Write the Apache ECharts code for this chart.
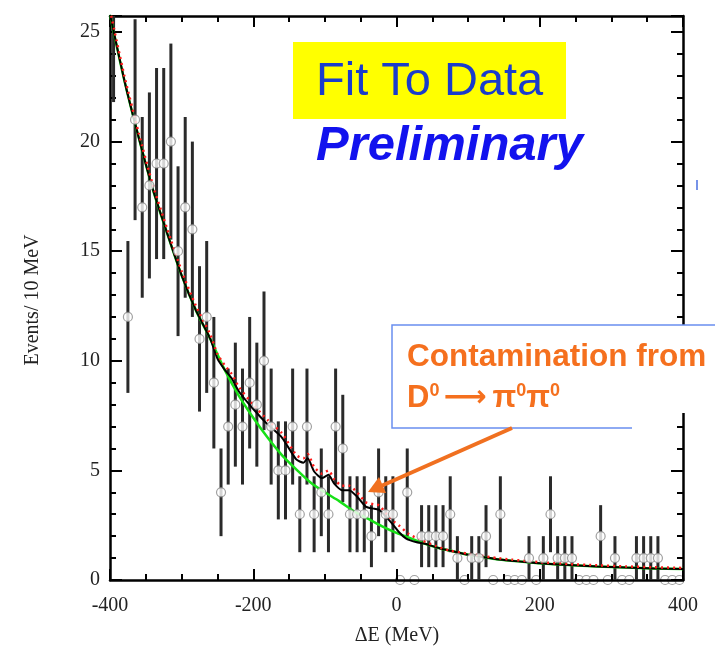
<!DOCTYPE html>
<html><head><meta charset="utf-8">
<script src="https://cdn.jsdelivr.net/npm/echarts@6/dist/echarts.min.js"></script>
<style>html,body{margin:0;padding:0;background:#fff}#c{width:715px;height:664px}</style>
</head><body><div id="c"></div>
<script>
// ---- data ----
const binCenters = [-395,-385,-375,-365,-355,-345,-335,-325,-315,-305,-295,-285,-275,-265,-255,-245,-235,-225,-215,-205,
  -195,-185,-175,-165,-155,-145,-135,-125,-115,-105,-95,-85,-75,-65,-55,-45,-35,-25,-15,-5,
  5,15,25,35,45,55,65,75,85,95,105,115,125,135,145,155,165,175,185,195,
  205,215,225,235,245,255,265,275,285,295,305,315,325,335,345,355,365,375,385,395];
const counts = [27,null,12,21,17,18,19,19,20,15,17,16,11,12,9,4,7,8,7,9,
  8,10,7,5,5,7,3,7,3,4,3,7,6,3,3,3,2,4,3,3,
  0,4,0,2,2,2,2,3,1,0,1,1,2,0,3,0,0,0,1,0,
  1,3,1,1,1,0,0,0,2,0,1,0,0,1,1,1,1,0,0,0];

const bkgX = [-400,-380,-360,-340,-320,-300,-280,-260,-240,-220,-200,-180,-160,-140,-120,-100,-80,-60,-40,-20,0,20,40,60,80,100,120,140,160,180,200,240,280,320,360,400];
const bkgY = [25.8,22.8,20.2,17.8,15.8,13.9,12.3,11.0,9.6,8.4,7.4,6.5,5.7,5.05,4.45,4.0,3.6,3.15,2.8,2.45,2.15,1.9,1.65,1.45,1.3,1.15,1.05,0.95,0.88,0.82,0.76,0.68,0.62,0.57,0.53,0.5];

const totX = [-400,-380,-360,-340,-320,-300,-280,-260,-250,-240,-230,-220,-200,-180,-160,-140,-130,-124,-115,-104,-95,-87,-76,-66,-55,-43,-31,-24,-15,-3,3,13,27,40,60,80,100,120,140,160,180,200,240,280,320,360,400];
const totY = [25.8,22.8,20.2,17.8,15.8,13.9,12.3,11.0,10.1,9.6,9.2,8.6,7.8,7.1,6.5,5.5,5.35,5.55,4.95,4.65,4.8,4.4,4.1,4.1,3.8,3.35,3.25,3.2,2.9,2.45,2.2,1.9,1.73,1.65,1.45,1.3,1.15,1.05,0.95,0.88,0.82,0.76,0.68,0.62,0.57,0.53,0.5];

const redX = [-400,-380,-360,-340,-320,-300,-280,-260,-250,-240,-230,-220,-200,-180,-160,-140,-130,-124,-115,-104,-95,-87,-76,-66,-55,-43,-31,-24,-15,-3,3,17,36,55,73,100,120,140,160,180,200,240,280,320,360,400];
const redY = [26.0,23.0,20.4,18.0,16.0,14.1,12.5,11.2,10.3,9.8,9.4,8.8,8.0,7.3,6.7,5.7,5.55,5.75,5.15,4.85,5.0,4.6,4.3,4.3,4.0,3.55,3.45,3.4,3.05,2.65,2.5,2.1,1.8,1.55,1.35,1.2,1.1,1.0,0.93,0.87,0.81,0.73,0.67,0.62,0.58,0.55];

const xTicks = [-400,-200,0,200,400];
const yTicks = [0,5,10,15,20,25];

// ---- build series data ----
const pts = [], zeros = [], bars = [];
binCenters.forEach((x,i)=>{
  const n = counts[i];
  if (n === null) return;
  if (n === 0) { zeros.push([x,0]); return; }
  pts.push([x,n]);
  const e = Math.sqrt(n);
  bars.push([x, n-e, n+e]);
});
const zip = (a,b)=>a.map((v,i)=>[v,b[i]]);

const chart = echarts.init(document.getElementById('c'), null, {renderer:'canvas'});
const serif = '"Liberation Serif","DejaVu Serif",serif';
const sans = '"Liberation Sans",Arial,sans-serif';
const axisCommon = {
  type:'value', min:-400, max:400, interval:200,
  axisLine:{show:true, onZero:false, lineStyle:{color:'#000', width:2.5}},
  axisTick:{show:true, inside:true, length:11, lineStyle:{color:'#000', width:2}},
  minorTick:{show:true, splitNumber:4, length:6, lineStyle:{color:'#000', width:2}},
  splitLine:{show:false}
};
const yCommon = {
  type:'value', min:0, max:25.73, interval:5,
  axisLine:{show:true, onZero:false, lineStyle:{color:'#000', width:2.5}},
  axisTick:{show:true, inside:true, length:12, lineStyle:{color:'#000', width:2}},
  minorTick:{show:true, splitNumber:5, length:6, lineStyle:{color:'#000', width:2}},
  splitLine:{show:false}
};
chart.setOption({
  animation:false,
  backgroundColor:'#fff',
  grid:{left:110, right:32, top:16, bottom:84},
  xAxis:[
    Object.assign({}, axisCommon, {position:'bottom',
      axisLabel:{show:true, margin:16, fontSize:20, fontFamily:serif, color:'#222',
        formatter:v=> xTicks.includes(v) ? String(v) : ''}}),
    Object.assign({}, axisCommon, {position:'top', axisLabel:{show:false}})
  ],
  yAxis:[
    Object.assign({}, yCommon, {position:'left',
      axisLabel:{show:true, margin:10, fontSize:20, fontFamily:serif, color:'#222',
        formatter:v=> yTicks.includes(v) ? String(v) : ''}}),
    Object.assign({}, yCommon, {position:'right', axisLabel:{show:false}})
  ],
  series:[
    {type:'custom', name:'err', z:3, data:bars,
      renderItem:(params, api)=>{
        const top = api.coord([api.value(0), api.value(2)]);
        const bot = api.coord([api.value(0), api.value(1)]);
        const cs = params.coordSys;
        const y1 = Math.max(top[1], cs.y), y2 = Math.min(bot[1], cs.y+cs.height);
        return {type:'line', shape:{x1:top[0], y1:y1, x2:bot[0], y2:y2},
          style:{stroke:'#2a2a2a', lineWidth:3}};
      }},
    {type:'line', name:'bkg', z:4, data:zip(bkgX,bkgY), smooth:0.3, symbol:'none',
      lineStyle:{color:'#18e018', width:2.5}},
    {type:'line', name:'tot', z:5, data:zip(totX,totY), smooth:0.2, symbol:'none',
      lineStyle:{color:'#000', width:2}},
    {type:'line', name:'red', z:6, data:zip(redX,redY), smooth:0.2, symbol:'none',
      lineStyle:{color:'#ff1a1a', width:2.5, type:[2,4]}},
    {type:'scatter', name:'pts', z:8, data:pts, symbol:'circle', symbolSize:9,
      itemStyle:{color:'#fff', borderColor:'#8a8a8a', borderWidth:1.2}},
    {type:'scatter', name:'zeros', z:-1, data:zeros, symbol:'circle', symbolSize:9, clip:false,
      itemStyle:{color:'#fff', borderColor:'#8a8a8a', borderWidth:1.2}}
  ],
  graphic:[
    {type:'text', x:397, y:636, style:{text:'ΔE (MeV)', font:'20px '+serif, fill:'#222', textAlign:'center', textVerticalAlign:'middle'}},
    {type:'text', x:33, y:300, rotation:Math.PI/2, style:{text:'Events/ 10 MeV', font:'20px '+serif, fill:'#222', textAlign:'center', textVerticalAlign:'middle'}},
    {type:'rect', shape:{x:293, y:42, width:273, height:77}, style:{fill:'#ffff00'}, z:20},
    {type:'text', x:316, y:82, z:21, style:{text:'Fit To Data', font:'47px '+sans, fill:'#1a3ccc', textAlign:'left', textVerticalAlign:'middle'}},
    {type:'text', x:316, y:146, z:21, style:{text:'Preliminary', font:'italic bold 49px '+sans, fill:'#1212ee', textAlign:'left', textVerticalAlign:'middle'}},
    {type:'rect', shape:{x:392, y:325, width:330, height:88}, style:{fill:'#fff'}, z:20},
    {type:'polyline', shape:{points:[[715,325],[392,325],[392,428],[632,428]]}, style:{stroke:'#6a8ff0', lineWidth:1.5, fill:null}, z:21},
    {type:'text', x:407, y:357, z:22, style:{text:'Contamination from', font:'bold 31.5px '+sans, fill:'#f5701e', textAlign:'left', textVerticalAlign:'middle'}},
    {type:'text', x:407, y:398, z:22, style:{
      text:'D{s|0}{a|\u27f6}\u03c0{s|0}\u03c0{s|0}', font:'bold 31px '+sans, fill:'#f5701e', textAlign:'left', textVerticalAlign:'middle',
      rich:{
        s:{fontSize:18, fontWeight:'bold', fill:'#f5701e', verticalAlign:'top', lineHeight:31, fontFamily:sans},
        a:{fontSize:30, fontWeight:'bold', fill:'#f5701e', fontFamily:'"DejaVu Sans",sans-serif', padding:[0,6,0,4]}
      }}},
    {type:'line', shape:{x1:512, y1:428, x2:380, y2:486.5}, style:{stroke:'#f07020', lineWidth:4}, z:22},
    {type:'polygon', shape:{points:[[368,492],[386,493],[379,477]]}, style:{fill:'#f07020'}, z:22},
    {type:'line', shape:{x1:697, y1:180, x2:697, y2:190}, style:{stroke:'#4a6fe0', lineWidth:1.5}, z:22}
  ]
});
</script></body></html>
